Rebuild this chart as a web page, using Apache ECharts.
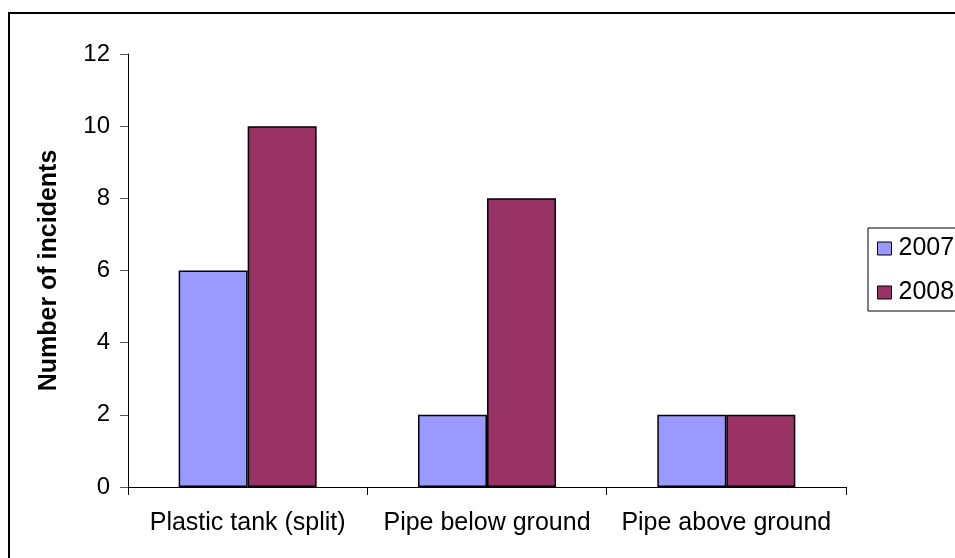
<!DOCTYPE html>
<html><head><meta charset="utf-8">
<script src="https://cdn.jsdelivr.net/npm/echarts@6/dist/echarts.min.js"></script>
<style>html,body{margin:0;padding:0;background:#fff}#c{width:955px;height:558px}</style>
</head><body><div id="c"></div>
<script>
const categories = ['Plastic tank (split)', 'Pipe below ground', 'Pipe above ground'];
const values2007 = [6, 2, 2];
const values2008 = [10, 8, 2];
const seriesNames = ['2007', '2008'];
const yTicks = [0, 2, 4, 6, 8, 10, 12];

const chart = echarts.init(document.getElementById('c'), null, {renderer: 'canvas'});
const font = 'Liberation Sans, Arial, sans-serif';
chart.setOption({
  animation: false,
  textStyle: {fontFamily: font},
  graphic: [{
    type: 'rect', shape: {x: 9, y: 13, width: 960, height: 560},
    style: {fill: 'none', stroke: '#000', lineWidth: 2}, silent: true
  }],
  grid: {left: 128, right: 109, top: 54, bottom: 71},
  legend: {
    orient: 'vertical', left: 868, top: 228,
    data: seriesNames,
    icon: 'rect', itemWidth: 14, itemHeight: 13, itemGap: 19,
    padding: [8, 40, 6, 9],
    borderColor: '#000', borderWidth: 1,
    textStyle: {fontSize: 25, color: '#000', fontFamily: font, padding: [0, 0, 0, 2]},
    itemStyle: {borderColor: '#000', borderWidth: 1}
  },
  xAxis: {
    type: 'category', data: categories,
    axisLine: {lineStyle: {color: '#000', width: 1}},
    axisTick: {show: true, length: 8, lineStyle: {color: '#000'}},
    axisLabel: {interval: 0, fontSize: 25, color: '#000', margin: 24, fontFamily: font}
  },
  yAxis: {
    type: 'value', min: yTicks[0], max: yTicks[yTicks.length - 1], interval: 2,
    name: 'Number of incidents', nameLocation: 'middle', nameGap: 66,
    nameTextStyle: {fontSize: 25, fontWeight: 'bold', color: '#000', fontFamily: font},
    axisLine: {show: true, lineStyle: {color: '#000', width: 1}},
    axisTick: {show: true, length: 8, lineStyle: {color: '#555'}},
    splitLine: {show: false},
    axisLabel: {fontSize: 24, color: '#000', margin: 18, fontFamily: font}
  },
  series: [
    {name: seriesNames[0], type: 'bar', data: values2007, barWidth: 69, barGap: '0%',
     itemStyle: {color: '#9999FF', borderColor: '#000', borderWidth: 1.5}},
    {name: seriesNames[1], type: 'bar', data: values2008, barWidth: 69, barGap: '0%',
     itemStyle: {color: '#993366', borderColor: '#000', borderWidth: 1.5}}
  ]
});
</script></body></html>
